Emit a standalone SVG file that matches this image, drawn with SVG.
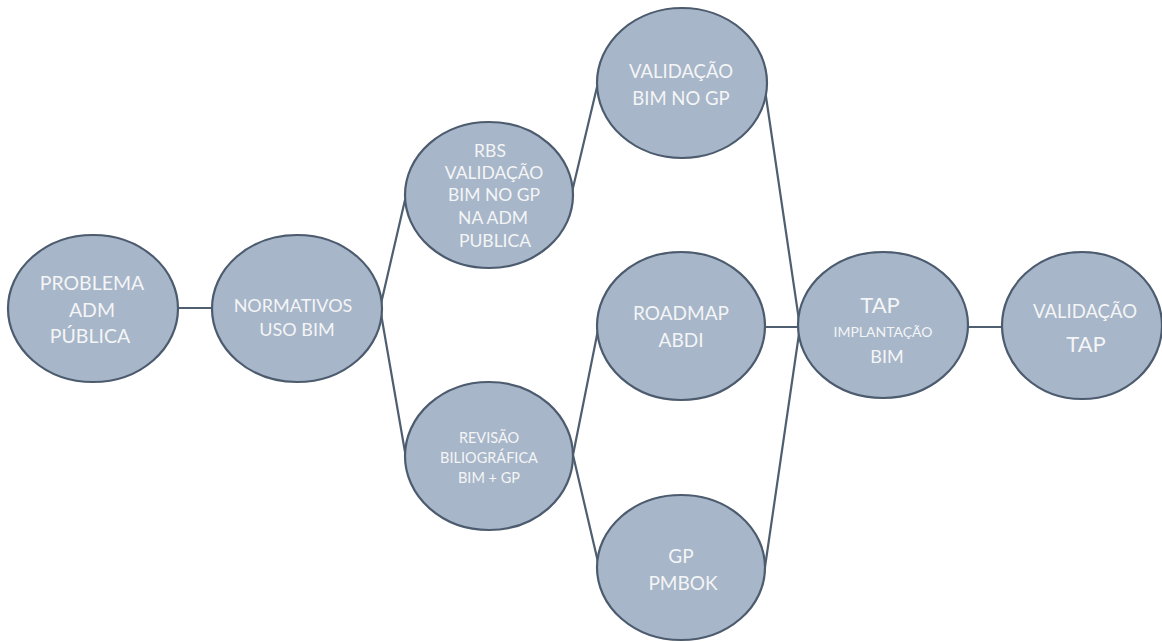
<svg xmlns="http://www.w3.org/2000/svg" width="1162" height="642" viewBox="0 0 1162 642">
  <style>
    .bg { fill: #ffffff; }
    .node ellipse { fill: #a7b6c8; stroke: #4c5b6e; stroke-width: 2.2; }
    .node text { fill: #f4f5f7; font-family: Lato, "Open Sans", "Liberation Sans", sans-serif; text-anchor: middle; }
    .edges line { stroke: #4f5e70; stroke-width: 2.2; fill: none; stroke-linecap: round; }
  </style>
  <rect class="bg" x="0" y="0" width="1162" height="642"/>

  <!-- connectors -->
  <g id="edges" class="edges">
    <line x1="177" y1="308" x2="212" y2="308"/>
    <line x1="380" y1="308" x2="405" y2="200"/>
    <line x1="380" y1="308" x2="405" y2="452"/>
    <line x1="572" y1="192" x2="597" y2="87"/>
    <line x1="573" y1="455" x2="598" y2="330"/>
    <line x1="573" y1="455" x2="598" y2="562"/>
    <line x1="765" y1="90" x2="800" y2="327"/>
    <line x1="765" y1="327" x2="800" y2="327"/>
    <line x1="765" y1="567" x2="800" y2="327"/>
    <line x1="968" y1="327" x2="1002" y2="327"/>
  </g>

  <g id="problema" class="node">
    <ellipse cx="93" cy="308.5" rx="85" ry="73.5"/>
    <text font-size="19.5"><tspan x="92" y="290">PROBLEMA</tspan><tspan x="92" y="317">ADM</tspan><tspan x="90" y="343">PÚBLICA</tspan></text>
  </g>

  <g id="normativos" class="node">
    <ellipse cx="297" cy="308.5" rx="85" ry="73.5"/>
    <text font-size="18"><tspan x="293" y="312">NORMATIVOS</tspan><tspan x="297" y="336">USO BIM</tspan></text>
  </g>

  <g id="rbs" class="node">
    <ellipse cx="489" cy="195" rx="84" ry="73"/>
    <text font-size="17.5"><tspan x="490" y="157">RBS</tspan><tspan x="494" y="179">VALIDAÇÃO</tspan><tspan x="494" y="201">BIM NO GP</tspan><tspan x="493" y="224">NA ADM</tspan><tspan x="495" y="247">PUBLICA</tspan></text>
  </g>

  <g id="validacao-bim" class="node">
    <ellipse cx="682" cy="83" rx="85" ry="75"/>
    <text font-size="18.5"><tspan x="681" y="78">VALIDAÇÃO</tspan><tspan x="681" y="105">BIM NO GP</tspan></text>
  </g>

  <g id="revisao" class="node">
    <ellipse cx="489" cy="456" rx="84" ry="74"/>
    <text font-size="14.5"><tspan x="489" y="443">REVISÃO</tspan><tspan x="489" y="463">BILIOGRÁFICA</tspan><tspan x="489" y="483">BIM + GP</tspan></text>
  </g>

  <g id="roadmap" class="node">
    <ellipse cx="681" cy="326" rx="84" ry="74"/>
    <text font-size="19"><tspan x="681" y="320">ROADMAP</tspan><tspan x="681" y="347">ABDI</tspan></text>
  </g>

  <g id="pmbok" class="node">
    <ellipse cx="681" cy="567.5" rx="84" ry="72.5"/>
    <text font-size="19"><tspan x="681" y="563">GP</tspan><tspan x="683" y="590">PMBOK</tspan></text>
  </g>

  <g id="tap" class="node">
    <ellipse cx="883" cy="325" rx="85" ry="73"/>
    <text><tspan x="880" y="313" font-size="22">TAP</tspan><tspan x="883" y="337" font-size="14">IMPLANTAÇÃO</tspan><tspan x="887" y="363" font-size="18">BIM</tspan></text>
  </g>

  <g id="validacao-tap" class="node">
    <ellipse cx="1082" cy="325.5" rx="80" ry="73.5"/>
    <text><tspan x="1085" y="318" font-size="18.5">VALIDAÇÃO</tspan><tspan x="1086" y="352" font-size="22">TAP</tspan></text>
  </g>
</svg>
